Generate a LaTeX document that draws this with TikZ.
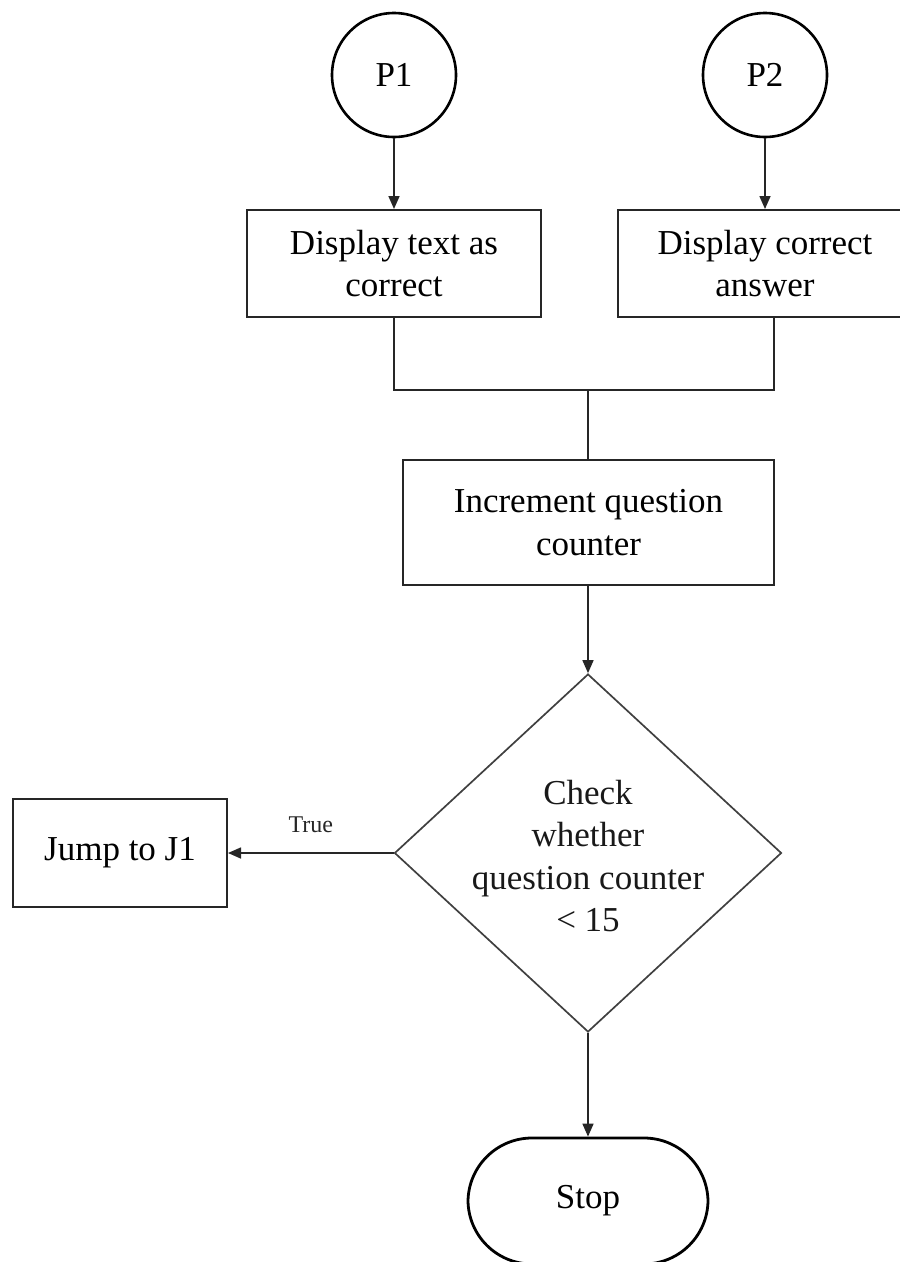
\documentclass[tikz,border=0pt]{standalone}
\usepackage{fontspec}
\setmainfont{Liberation Serif}
\usetikzlibrary{arrows.meta,shapes.geometric}
\tikzset{
  conn/.style={line width=1.6pt, draw=black!85},
  arr/.style={conn, -{Triangle[length=13pt,width=11pt]}},
  circ/.style={circle, draw=black, line width=2.6pt, minimum size=124pt, inner sep=0pt,
     font=\fontsize{35}{42}\selectfont},
  proc/.style={rectangle, draw=black!85, line width=2pt, inner sep=0pt, align=center,
     font=\fontsize{35}{42.5}\selectfont},
  dec/.style={diamond, draw=black!75, line width=1.7pt, inner sep=0pt, aspect=1.08},
  term/.style={rectangle, rounded corners=64pt, draw=black, line width=2.8pt, inner sep=0pt,
     font=\fontsize{35}{42}\selectfont},
  lbl/.style={inner sep=0pt, font=\fontsize{24}{28}\selectfont, text=black!85},
  txt/.style={inner sep=0pt, align=center, font=\fontsize{35}{42.5}\selectfont, text=black!90}
}
\begin{document}
\begin{tikzpicture}[x=1pt,y=-1pt]
\useasboundingbox (0,0) rectangle (900,1262);
\clip (0,0) rectangle (900,1262);
\node[circ] (p1) at (394,75) {P1};
\node[circ] (p2) at (765,75) {P2};
\node[proc, minimum width=294pt, minimum height=107pt] (b1) at (394,263.5) {Display text as\\correct};
\node[proc, minimum width=294pt, minimum height=107pt] (b2) at (765,263.5) {Display correct\\answer};
\node[proc, minimum width=371pt, minimum height=125pt] (b3) at (588.5,522.5) {Increment question\\counter};
\node[dec, minimum width=387pt, minimum height=358pt] (d) at (588,853) {};
\node[txt] (dt) at (588,856) {Check\\whether\\question counter\\< 15};
\node[proc, minimum width=214pt, minimum height=108pt] (j) at (120,853) {Jump to J1};
\node[term, minimum width=240pt, minimum height=126pt] (s) at (588,1201) {Stop};
\coordinate (jl) at (394,390);
\coordinate (jr) at (774,390);
\coordinate (jm) at (588,390);
\draw[arr] (p1) -- (b1);
\draw[arr] (p2) -- (b2);
\draw[conn] (b1.south) -- (jl) -- (jr) -- (jr |- b2.south);
\draw[conn] (jm) -- (b3.north -| jm);
\draw[arr] (b3.south -| d.north) -- (d.north);
\draw[arr] (d.west) -- (j.east) node[lbl, midway, above=19pt] (t) {True};
\draw[arr] (d.south) -- (s.north);
\end{tikzpicture}
\end{document}
